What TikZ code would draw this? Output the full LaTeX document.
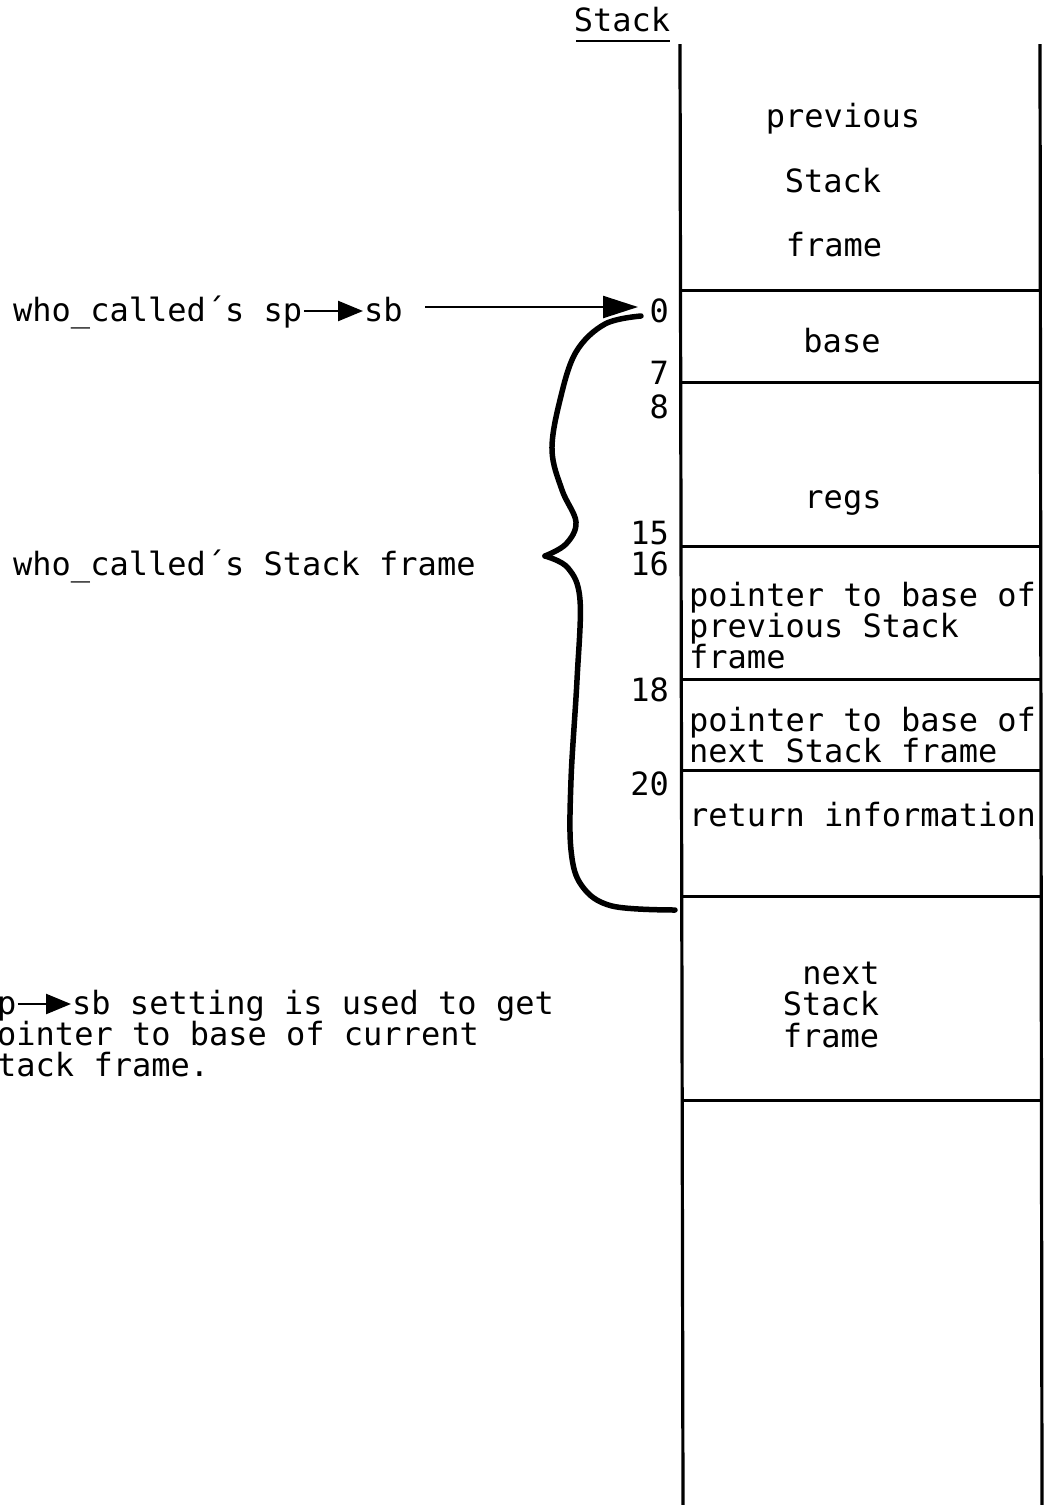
\documentclass[tikz,border=0pt]{standalone}
\usepackage{fontspec}
\setmonofont{DejaVu Sans Mono}
\usetikzlibrary{arrows.meta}
\begin{document}
\begin{tikzpicture}[x=1pt,y=-1pt,
  txt/.style={font=\fontsize{32}{31}\selectfont\ttfamily, inner sep=0pt},
  lbl/.style={txt, anchor=base west},
  ctr/.style={txt, anchor=base},
  num/.style={txt, anchor=base east},
  wall/.style={line width=3.2pt},
  sepline/.style={line width=3pt},
  brace/.style={line width=5.5pt, line cap=round, line join=round},
  ptr/.style={line width=2.4pt, -{Triangle[length=25pt,width=20pt]}},
  bigptr/.style={line width=2.4pt, -{Triangle[length=35pt,width=22pt]}}]
\useasboundingbox (0,0) rectangle (1054,1505);

% title
\node[ctr] (title) at (622,31) {Stack};
\draw[line width=2.5pt] (576,41) -- (670,41);

% walls
\coordinate (lwt) at (680,44);
\coordinate (lwb) at (683,1505);
\coordinate (rwt) at (1040,44);
\coordinate (rwb) at (1042,1505);
\draw[wall] (lwt) -- (lwb);
\draw[wall] (rwt) -- (rwb);

% separators
\foreach \yy/\nm in {290/a,382/b,546/c,679/d,770/e,896/f,1100/g}{
  \coordinate (s\nm l) at (681,\yy);
  \coordinate (s\nm r) at (1041,\yy);
  \draw[sepline] (s\nm l) -- (s\nm r);
}

% cell texts
\node[ctr] (prev1) at (843,127) {previous};
\node[ctr] (prev2) at (833,192) {Stack};
\node[ctr] (prev3) at (834,256) {frame};
\node[ctr] (base) at (842,352) {base};
\node[ctr] (regs) at (843,508) {regs};
\node[lbl] (pp1) at (689,606) {pointer to base of};
\node[lbl] (pp2) at (689,637) {previous Stack};
\node[lbl] (pp3) at (689,668) {frame};
\node[lbl] (np1) at (689,731) {pointer to base of};
\node[lbl] (np2) at (689,762) {next Stack frame};
\node[lbl] (ret) at (689,826) {return information};
\node[ctr] (next1) at (841,984) {next};
\node[ctr] (next2) at (831,1015) {Stack};
\node[ctr] (next3) at (831,1047) {frame};

% offsets
\node[num] (n0) at (669,322) {0};
\node[num] (n7) at (669,384) {7};
\node[num] (n8) at (669,418) {8};
\node[num] (n15) at (669,544) {15};
\node[num] (n16) at (669,575) {16};
\node[num] (n18) at (669,701) {18};
\node[num] (n20) at (669,795) {20};

% left labels
\node[lbl] (wcsp) at (13,321) {who\_called´s sp};
\node[lbl] (wcsb) at (364,321) {sb};
\draw[ptr] ([xshift=2pt,yshift=10pt]wcsp.base east) -- ([xshift=-1pt,yshift=10pt]wcsb.base west);
\coordinate (arrowstart) at (425,307);
\coordinate (arrowend) at (638,307);
\draw[bigptr] (arrowstart) -- (arrowend);

\node[lbl] (wcframe) at (13,575) {who\_called´s Stack frame};

\node[lbl] (bp) at (-3,1014) {p};
\node[lbl] (bsb) at (72,1014) {sb setting is used to get};
\node[lbl] (bl2) at (-3,1045) {ointer to base of current};
\node[lbl] (bl3) at (-3,1076) {tack frame.};
\draw[ptr] ([xshift=1pt,yshift=10pt]bp.base east) -- ([xshift=-1pt,yshift=10pt]bsb.base west);

% brace
\coordinate (bt) at (641,316);
\coordinate (btip) at (545,556);
\coordinate (bb) at (675,910);
\draw[brace] plot[smooth, tension=0.6] coordinates {(bt) (605,324) (576,352) (560,400) (552,450) (562,490) (576,522) (566,544) (btip)};
\draw[brace] plot[smooth, tension=0.6] coordinates {(btip) (568,568) (580,600) (577,680) (571,780) (571,850) (582,886) (612,906) (bb)};
\end{tikzpicture}
\end{document}
